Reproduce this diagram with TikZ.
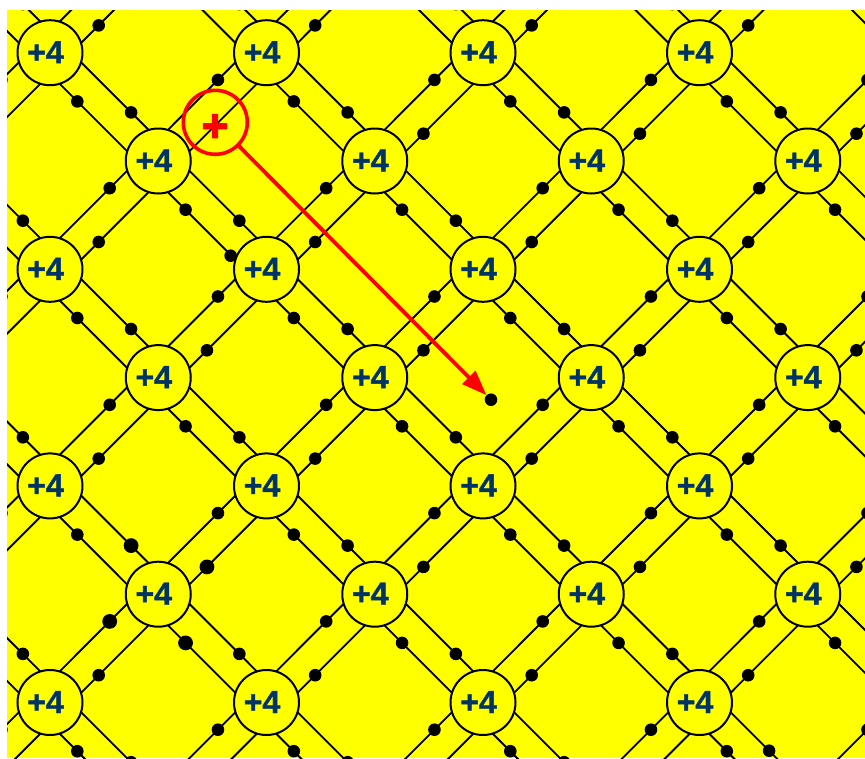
\documentclass[tikz,border=0pt]{standalone}
\usepackage{fontspec}
\setmainfont{Liberation Sans}
\newfontfamily\heavyfont[BoldFeatures={FakeBold=1.2}]{Liberation Sans}
\newfontfamily\plusfont[BoldFeatures={FakeBold=2.5}]{Liberation Sans}
\usetikzlibrary{arrows.meta,backgrounds}
\definecolor{atomtext}{HTML}{003366}
\definecolor{crystal}{RGB}{255,255,0}
\definecolor{pagewhite}{RGB}{255,255,255}
\definecolor{holered}{RGB}{255,0,0}
\tikzset{
  x=1pt,y=-1pt,
  atom/.style={circle,draw=black,line width=2pt,fill=crystal,minimum size=65pt,inner sep=0pt,
    font=\fontsize{32}{32}\selectfont\heavyfont\bfseries,text=atomtext},
  bond/.style={draw=black,line width=1.9pt},
  electron/.style={fill=black},
  holering/.style={circle,draw=holered,line width=3.6pt,minimum size=64pt,inner sep=0pt},
  plussign/.style={inner sep=0pt,text=holered,font=\fontsize{46}{46}\selectfont\plusfont\bfseries},
  freeelectron/.style={circle,fill=black,minimum size=12.6pt,inner sep=0pt},
  drift/.style={draw=holered,line width=3.8pt,-{Triangle[length=25pt,width=18pt]}}
}
\newcommand{\ox}{10.7}
\newcommand{\tnear}{38}
\newcommand{\tfar}{70.4}
\begin{document}
\begin{tikzpicture}
\useasboundingbox (0,0) rectangle (865,758);
% atoms
\begin{scope}
\clip (7,10) rectangle (865,758);
\foreach \p in {-1,...,8}{\foreach \q in {-1,...,7}{
  \pgfmathtruncatemacro\s{mod(\p+\q+10,2)}
  \pgfmathsetmacro\xx{50+108.25*\p}
  \pgfmathsetmacro\yy{52.7+108.3*\q}
  \ifnum\s=0
    \pgfmathtruncatemacro\vis{(\p>=0)*(\p<=7)*(\q>=0)*(\q<=6)}
    \ifnum\vis=1
      \node[atom] (a\p/\q) at (\xx,\yy) {\raisebox{1pt}{+4}\kern9pt};
    \else
      \coordinate (a\p/\q) at (\xx,\yy);
    \fi
  \fi
}}
\end{scope}
\begin{pgfonlayer}{background}
\fill[pagewhite] (0,0) rectangle (865,758);
\fill[crystal] (7,10) rectangle (865,758);
\begin{scope}
\clip (7,10) rectangle (865,758);
\foreach \p in {-1,...,7}{\foreach \q in {-1,...,7}{
  \pgfmathtruncatemacro\s{mod(\p+\q+10,2)}
  \ifnum\s=0
    \pgfmathtruncatemacro\pn{\p+1}
    \pgfmathtruncatemacro\qs{\q+1}
    \pgfmathtruncatemacro\qn{\q-1}
    % south-east bond
    \ifnum\q<7
      \draw[bond] ([shift={(\ox,-\ox)}]a\p/\q.center) -- ([shift={(\ox,-\ox)}]a\pn/\qs.center);
      \draw[bond] ([shift={(-\ox,\ox)}]a\p/\q.center) -- ([shift={(-\ox,\ox)}]a\pn/\qs.center);
      \pgfmathtruncatemacro\bigA{(\p==0)*(\q==4)}
      \pgfmathtruncatemacro\bigB{(\p==1)*(\q==5)}
      \pgfmathtruncatemacro\slid{(\p==6)*(\q==6)}
      \pgfmathsetmacro\ra{\bigA>0?7.4:6.3}
      \pgfmathsetmacro\rb{\bigB>0?7.4:6.3}
      \pgfmathsetmacro\tf{\slid>0?58.9:\tfar}
      \fill[electron] ([shift={(\tf+\ox,\tf-\ox)}]a\p/\q.center) circle (\ra pt);
      \fill[electron] ([shift={(\tnear-\ox,\tnear+\ox)}]a\p/\q.center) circle (\rb pt);
    \fi
    % north-east bond
    \ifnum\q>-1
      \draw[bond] ([shift={(-\ox,-\ox)}]a\p/\q.center) -- ([shift={(-\ox,-\ox)}]a\pn/\qn.center);
      \draw[bond] ([shift={(\ox,\ox)}]a\p/\q.center) -- ([shift={(\ox,\ox)}]a\pn/\qn.center);
      \pgfmathtruncatemacro\bigC{(\p==0)*(\q==6)}
      \pgfmathtruncatemacro\bigD{(\p==1)*(\q==5)}
      \pgfmathtruncatemacro\hole{(\p==1)*(\q==1)}
      \pgfmathsetmacro\rc{\bigC>0?7.4:6.3}
      \pgfmathsetmacro\rd{\bigD>0?7.4:6.3}
      \fill[electron] ([shift={(\tfar-\ox,-\tfar-\ox)}]a\p/\q.center) circle (\rc pt);
      \ifnum\hole=0
        \fill[electron] ([shift={(\tnear+\ox,-\tnear+\ox)}]a\p/\q.center) circle (\rd pt);
      \fi
    \fi
  \fi
}}
% extra electron on the bond below the hole
\fill[electron] ([shift={(72.4,94.7)}]a1/1.center) circle (6.3pt);
\end{scope}
\end{pgfonlayer}
% hole and free electron
\node[holering] (hole) at (215.3,122.3) {};
\node[plussign] (plus) at (215,128) {+};
\node[freeelectron] (free) at (491,399.7) {};
\draw[drift] (hole) -- (free);
\end{tikzpicture}
\end{document}
